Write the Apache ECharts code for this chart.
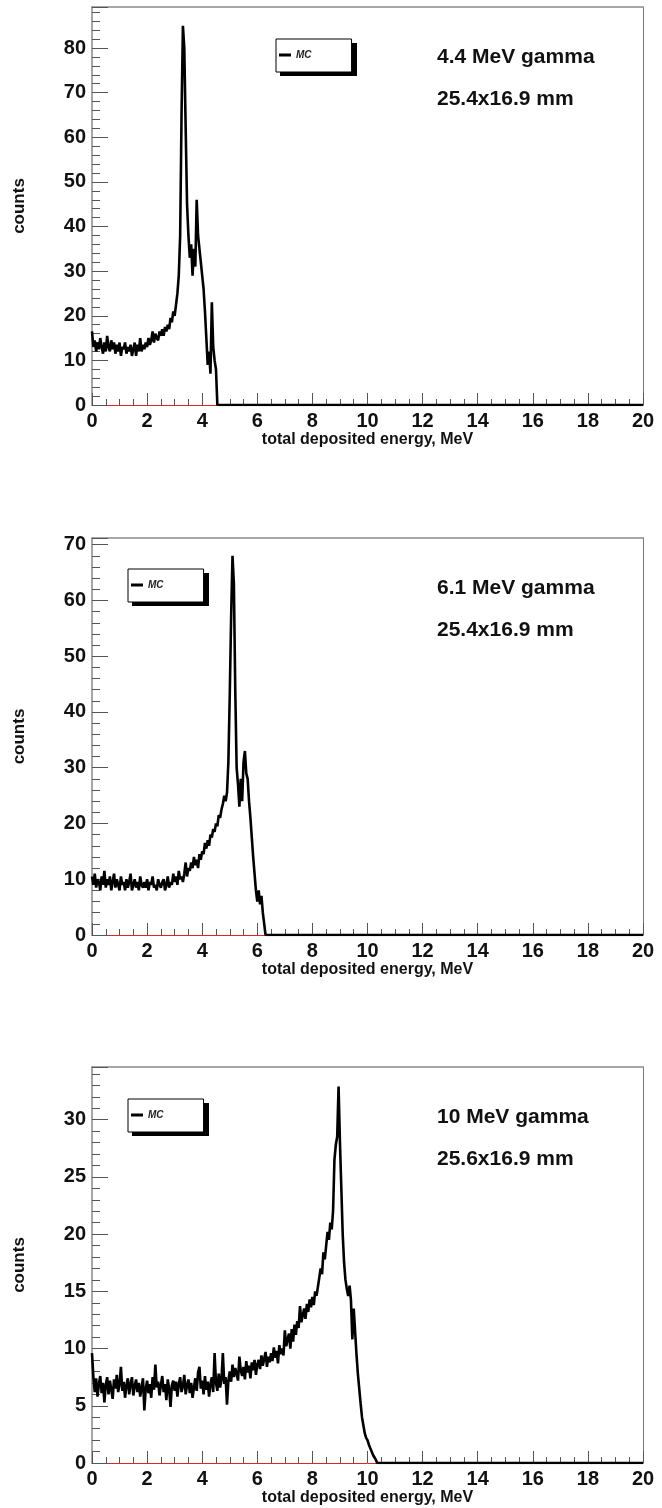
<!DOCTYPE html>
<html><head><meta charset="utf-8">
<script src="https://cdn.jsdelivr.net/npm/echarts@6/dist/echarts.min.js"></script>
<style>html,body{margin:0;padding:0;background:#fff}#c{width:662px;height:1508px}</style>
</head><body><div id="c"></div>
<script>
// ---- data ----
const binWidth = 0.05;      // MeV per histogram bin (bins start at 0)
const xMin = 0, xMax = 20;
const xMajorStep = 2, xMinorStep = 0.5;

// 4.4 MeV gamma, counts per bin
const counts44 = [
  16.5,13,14.5,12,14,12.5,15,13,11.5,14,
  12,15.5,13,12,14.5,12.5,14,11.5,13.5,12,
  14,11,13,12.5,14,11.5,13,12,13.5,11,
  12.5,14,11,13.5,12,15,12,13.5,12.5,14,
  13,15,13.5,14.5,16.5,14,16,15,14.5,16.5,
  15.5,17,15.5,17.5,16.5,18,17,19.5,18.5,21,
  20,22.5,25,29,38,65,85,80,62,45,
  38,33,36,29,35,31,46,38,35,32,
  29,26,21,15,9,12,7,23,13,10,
  8,0
];
// 6.1 MeV gamma
const counts61 = [
  10.5,9,11,8.5,10,9.5,8,10.5,9,11.5,
  8.5,10,9,10.5,8,9.5,11,8.5,10,9,
  8,10.5,9,9.5,8,10,8.5,9.5,11,8,
  9,10,8.5,9.5,8,10.5,9,8.5,9.5,8.5,
  10,8,9.5,9,10.5,8.5,9,8,10,9,
  8.5,9.5,10,8,9,10.5,8.5,9.5,9,11,
  9.5,10.5,9,11.5,10,10.5,9.5,11,13,10.5,
  12,11.5,13,12,14,12.5,13.5,12,14.5,13.5,
  15,14.5,16.5,15.5,17,16,18,17.5,19,18.5,
  20,19.5,21.5,21,22.5,23.5,25,24,25.5,31,
  43,57,68,63,44,30,27,23,28,24,
  31,33,29,28,24,21,17.5,14,11,8,
  6,8,5.5,7,4,2,
  0
];
// 10 MeV gamma
const counts10 = [
  9.6,7.5,6.2,7.4,5.8,6.9,7.6,6.1,7.0,5.3,
  6.8,7.5,6.0,7.2,6.4,5.6,7.3,6.5,7.7,6.2,
  6.9,8.4,6.3,7.1,5.7,6.8,7.4,6.0,6.9,7.5,
  5.9,6.7,7.3,6.2,7.0,5.8,6.6,7.4,4.6,6.5,
  7.2,6.1,6.9,5.7,7.5,6.4,8.6,6.6,7.1,5.9,
  6.8,7.6,6.2,6.9,5.5,7.3,6.5,4.9,6.8,7.2,
  6.3,7.1,5.8,6.9,7.5,6.2,6.7,7.7,6.0,6.8,
  7.3,6.1,7.0,5.7,6.6,7.4,6.3,7.9,8.4,6.5,
  7.2,6.0,7.6,6.4,7.1,5.8,6.9,7.5,6.2,9.6,
  7.0,6.3,7.8,6.6,7.3,9.6,6.9,7.5,5.1,7.2,
  8.0,7.1,8.6,7.5,8.3,7.8,7.2,9.3,8.1,7.6,
  8.4,7.3,8.9,7.9,8.5,7.4,8.8,8.1,9.0,7.7,
  8.6,9.0,8.2,9.4,8.5,9.1,9.7,8.4,9.3,8.8,
  9.6,8.9,10.1,9.2,9.8,8.7,10.3,9.5,10.0,9.4,
  11.6,10.2,10.8,11.3,10.0,11.7,10.6,12.1,11.2,12.4,
  11.8,13.7,12.3,12.9,13.5,12.6,13.9,13.2,14.3,13.6,
  14.5,13.8,15.0,14.6,15.4,16.2,17.0,16.5,18.4,17.8,
  19.0,20.2,19.5,21.0,20.4,22.0,26.5,27.8,28.5,32.9,
  28.0,24.0,20.0,17.5,16.0,15.2,14.6,15.5,14.2,10.8,
  13.5,11.5,9.5,7.8,6.5,5.2,4.0,3.3,2.6,2.2,
  2.0,1.6,1.3,1.0,0.7,0.5,0.3,0
];
const panelCounts = [counts44, counts61, counts10];
const panelText = [
  ['4.4 MeV gamma', '25.4x16.9 mm'],
  ['6.1 MeV gamma', '25.4x16.9 mm'],
  ['10 MeV gamma', '25.6x16.9 mm']
];
const yMaxValues = [89.2, 71.2, 34.6];
const yMajorSteps = [10, 10, 5];
const yMinorSteps = [2, 2, 1];
const seriesName = 'MC';
const xTitle = 'total deposited energy, MeV';
const yTitle = 'counts';

// ---- layout ----
const FONT = '"Liberation Sans", Arial, Helvetica, sans-serif';
const gridTops = [7, 538, 1067];
const gridHeights = [398, 397, 396];
const gridLeft = 92, gridRight = 19;
const legendPos = [[276, 39], [128, 569], [128, 1099]];
const legendW = 77, legendH = 33, shadowOff = 4;
const textLeft = 437;

const chart = echarts.init(document.getElementById('c'), null, {renderer: 'canvas'});

const grids = [], xAxes = [], yAxes = [], series = [], legends = [], graphics = [];
const isMult = (v, s) => Math.abs(v / s - Math.round(v / s)) < 1e-6;

for (let g = 0; g < 3; g++) {
  grids.push({left: gridLeft, right: gridRight, top: gridTops[g], height: gridHeights[g], containLabel: false});
  xAxes.push({
    gridIndex: g, type: 'value', min: xMin, max: xMax, interval: xMajorStep, position: 'bottom',
    axisLine: {show: true, onZero: false, lineStyle: {color: '#d42a2a', width: 1}},
    axisTick: {show: true, inside: true, length: 12, lineStyle: {color: '#555', width: 1}},
    axisLabel: {show: true, margin: 6, fontSize: 20, fontWeight: 'bold', color: '#111', fontFamily: FONT},
    splitLine: {show: false},
    name: xTitle, nameLocation: 'middle', nameGap: 24,
    nameTextStyle: {fontSize: 16, fontWeight: 'bold', color: '#111', fontFamily: FONT}
  });
  xAxes.push({
    gridIndex: g, type: 'value', min: xMin, max: xMax, interval: xMinorStep, position: 'bottom',
    axisLine: {show: false}, axisLabel: {show: false}, splitLine: {show: false},
    axisTick: {show: true, inside: true, length: 6, lineStyle: {color: '#555', width: 1}}
  });
  xAxes.push({
    gridIndex: g, type: 'value', min: xMin, max: xMax, position: 'top',
    axisLine: {show: true, onZero: false, lineStyle: {color: '#8a8a8a', width: 1.5}},
    axisTick: {show: false}, axisLabel: {show: false}, splitLine: {show: false}
  });
  const step = yMajorSteps[g];
  yAxes.push({
    gridIndex: g, type: 'value', min: 0, max: yMaxValues[g], interval: step, position: 'left',
    axisLine: {show: true, onZero: false, lineStyle: {color: '#8a8a8a', width: 1.5}},
    axisTick: {show: true, inside: true, length: 16, lineStyle: {color: '#555', width: 1}},
    axisLabel: {show: true, margin: 6, fontSize: 20, fontWeight: 'bold', color: '#111', fontFamily: FONT,
      formatter: v => isMult(v, step) ? String(Math.round(v)) : ''},
    splitLine: {show: false},
    name: yTitle, nameLocation: 'middle', nameGap: 64,
    nameTextStyle: {fontSize: 17, fontWeight: 'bold', color: '#111', fontFamily: FONT}
  });
  yAxes.push({
    gridIndex: g, type: 'value', min: 0, max: yMaxValues[g], interval: yMinorSteps[g], position: 'left',
    axisLine: {show: false}, axisLabel: {show: false}, splitLine: {show: false},
    axisTick: {show: true, inside: true, length: 8, lineStyle: {color: '#555', width: 1}}
  });
  yAxes.push({
    gridIndex: g, type: 'value', min: 0, max: yMaxValues[g], position: 'right',
    axisLine: {show: true, onZero: false, lineStyle: {color: '#e05050', width: 1}},
    axisTick: {show: false}, axisLabel: {show: false}, splitLine: {show: false}
  });
  const data = panelCounts[g].map((v, i) => [xMin + i * binWidth, v]);
  data.push([xMax, 0]);
  series.push({
    name: seriesName, type: 'line', step: 'end', xAxisIndex: g * 3, yAxisIndex: g * 3,
    data: data, symbol: 'none', showSymbol: false, silent: true,
    lineStyle: {color: '#000', width: 2.6}, itemStyle: {color: '#000'}, z: 5
  });
  legends.push({
    left: legendPos[g][0], top: legendPos[g][1], data: [seriesName], selectedMode: false,
    icon: 'rect', itemWidth: 12, itemHeight: 3, itemGap: 0,
    padding: [10, 40, 11, 3], backgroundColor: '#fff', borderColor: '#000', borderWidth: 1, borderRadius: 0,
    textStyle: {fontSize: 10, fontStyle: 'italic', fontWeight: 'bold', color: '#222', fontFamily: FONT, lineHeight: 12},
    z: 6
  });
  // legend drop shadow (ROOT style)
  graphics.push({
    type: 'rect', z: 5, silent: true,
    shape: {x: legendPos[g][0] + shadowOff, y: legendPos[g][1] + shadowOff, width: legendW, height: legendH},
    style: {fill: '#000'}
  });
  panelText[g].forEach((t, k) => {
    graphics.push({
      type: 'text', left: textLeft, top: gridTops[g] + 40 + k * 42, z: 10,
      style: {text: t, font: 'bold 21px ' + FONT, fill: '#111'}
    });
  });
}

chart.setOption({
  animation: false,
  backgroundColor: '#fff',
  grid: grids, xAxis: xAxes, yAxis: yAxes, series: series, legend: legends, graphic: graphics
});
</script>
</body></html>
